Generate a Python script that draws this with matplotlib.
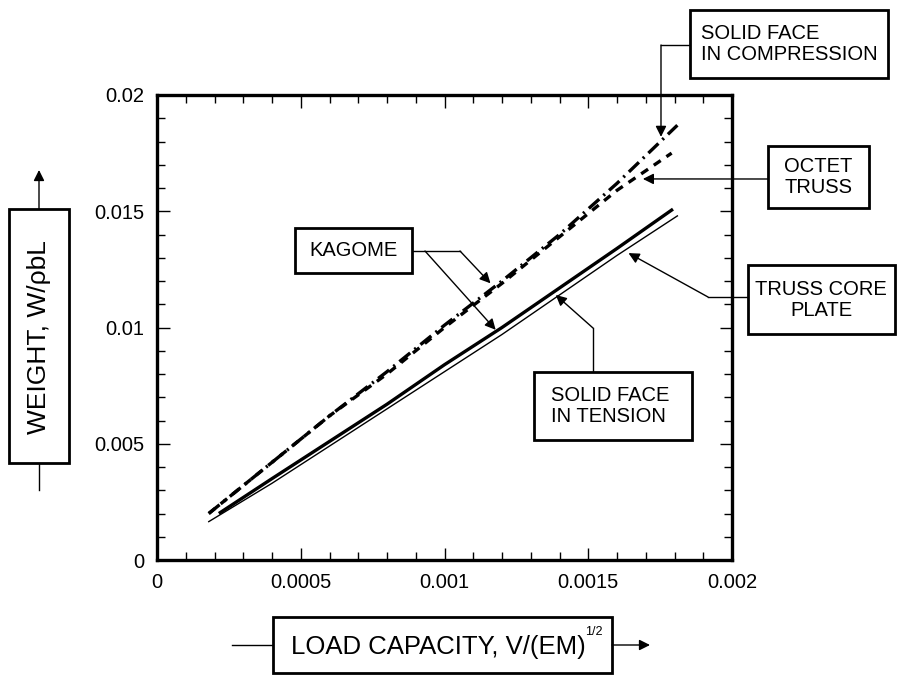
import numpy as np
import matplotlib
matplotlib.use("Agg")
from matplotlib import pyplot as plt
from matplotlib.patches import Rectangle
from matplotlib.lines import Line2D

plt.rcParams['font.family'] = ['Liberation Sans', 'DejaVu Sans']
plt.rcParams['lines.scale_dashes'] = False

# curves
x_tension = [0.00022, 0.0004, 0.0006, 0.0008, 0.001, 0.0012, 0.0014, 0.0016, 0.00179]
y_tension = [0.00204, 0.0035, 0.0051, 0.0067, 0.0084, 0.0100, 0.0117, 0.0134, 0.01505]

x_truss = [0.00018, 0.0004, 0.0006, 0.0008, 0.001, 0.0012, 0.0014, 0.0016, 0.00181]
y_truss = [0.00165, 0.0033, 0.0049, 0.0065, 0.0081, 0.0097, 0.0114, 0.0131, 0.0148]

x_compr = [0.00018, 0.0004, 0.0006, 0.0008, 0.001, 0.0012, 0.0014, 0.0016, 0.00181]
y_compr = [0.0020, 0.0042, 0.0062, 0.0081, 0.0101, 0.0120, 0.0140, 0.0162, 0.0187]

x_octet = [0.00018, 0.0004, 0.0006, 0.0008, 0.001, 0.0012, 0.0014, 0.0016, 0.00179]
y_octet = [0.0020, 0.0042, 0.0062, 0.0080, 0.0100, 0.0119, 0.0139, 0.0159, 0.0175]

W, H = 905, 675
fig = plt.figure(figsize=(W / 100, H / 100), dpi=100)
ax = fig.add_axes([157 / W, 1 - 560 / H, 575 / W, 465 / H])

ax.plot(x_octet, y_octet, color='k', lw=2.4, dashes=(6, 5))
ax.plot(x_compr, y_compr, color='k', lw=2.4, dashes=(10, 4, 1.5, 4))
ax.plot(x_tension, y_tension, color='k', lw=2.4)
ax.plot(x_truss, y_truss, color='k', lw=1.0)

ax.set_xlim(0, 0.002)
ax.set_ylim(0, 0.02)
ax.xaxis.set_major_locator(plt.MultipleLocator(0.0005))
ax.xaxis.set_minor_locator(plt.MultipleLocator(0.0001))
ax.yaxis.set_major_locator(plt.MultipleLocator(0.005))
ax.yaxis.set_minor_locator(plt.MultipleLocator(0.001))
fmt = plt.FuncFormatter(lambda v, p: '%g' % v)
ax.xaxis.set_major_formatter(fmt)
ax.yaxis.set_major_formatter(fmt)
ax.tick_params(which='both', direction='in', top=True, right=True, width=1.0, labelsize=14.5)
ax.tick_params(which='major', length=9, pad=9)
ax.tick_params(which='minor', length=6)
for s in ax.spines.values():
    s.set_linewidth(2.4)

# overlay in pixel coordinates for boxes and leaders
ov = fig.add_axes([0, 0, 1, 1])
ov.set_xlim(0, W)
ov.set_ylim(H, 0)
ov.axis('off')
ov.patch.set_alpha(0)

def box(x0, y0, x1, y1):
    ov.add_patch(Rectangle((x0, y0), x1 - x0, y1 - y0, fill=True, fc='white',
                           ec='k', lw=2.0, zorder=3))

def line(xs, ys):
    ov.add_line(Line2D(xs, ys, color='k', lw=1.0, zorder=2))

arrow = dict(arrowstyle='-|>', color='k', lw=1.0, mutation_scale=16,
             shrinkA=0, shrinkB=0)

def pointer(tip, start):
    ov.annotate('', xy=tip, xycoords=ax.transData, xytext=start,
                textcoords='data', arrowprops=arrow, zorder=2)

fs = 14.5

# SOLID FACE IN COMPRESSION
box(690, 10, 888, 78)
ov.text(701, 44, 'SOLID FACE\nIN COMPRESSION', ha='left', va='center',
        fontsize=fs, linespacing=1.1, zorder=4)
line([690, 661], [45, 45])
pointer((0.001753, 0.0182), (661, 45))

# OCTET TRUSS
box(768, 146, 869, 208)
ov.text(818, 177, 'OCTET\nTRUSS', ha='center', va='center', fontsize=fs,
        linespacing=1.1, zorder=4)
pointer((0.00169, 0.01639), (768, 179))

# TRUSS CORE PLATE
box(748, 265, 895, 334)
ov.text(821, 300, 'TRUSS CORE\nPLATE', ha='center', va='center', fontsize=fs,
        linespacing=1.1, zorder=4)
line([748, 708], [297, 297])
pointer((0.00164, 0.0132), (708, 297))

# KAGOME
box(295, 228, 412, 273)
ov.text(353, 251, 'KAGOME', ha='center', va='center', fontsize=fs, zorder=4)
line([412, 460], [251, 251])
pointer((0.00116, 0.0119), (460, 251))
pointer((0.001178, 0.0099), (425, 251))

# SOLID FACE IN TENSION
box(534, 372, 692, 440)
ov.text(551, 406, 'SOLID FACE\nIN TENSION', ha='left', va='center',
        fontsize=fs, linespacing=1.1, zorder=4)
line([593, 593], [372, 328])
pointer((0.001387, 0.0114), (593, 328))

# y axis label box
box(9, 209, 69, 463)
ov.text(39, 337, 'WEIGHT, W/ρbL', rotation=90, ha='center', va='center',
        fontsize=19, zorder=4)
ov.annotate('', xy=(39, 170), xytext=(39, 209), arrowprops=arrow)
line([39, 39], [463, 490])

# x axis label box
box(273, 617, 612, 673)
main = ov.text(291, 647, 'LOAD CAPACITY, V/(EM)', ha='left', va='center',
               fontsize=18.5, zorder=4)
fig.canvas.draw()
bb = main.get_window_extent()
ov.text(bb.x1 - 1, 632, '1/2', ha='left', va='center',
        fontsize=9, zorder=4)
line([232, 273], [645, 645])
ov.annotate('', xy=(650, 645), xytext=(612, 645), arrowprops=arrow)

fig.savefig('out.png', dpi=100)
